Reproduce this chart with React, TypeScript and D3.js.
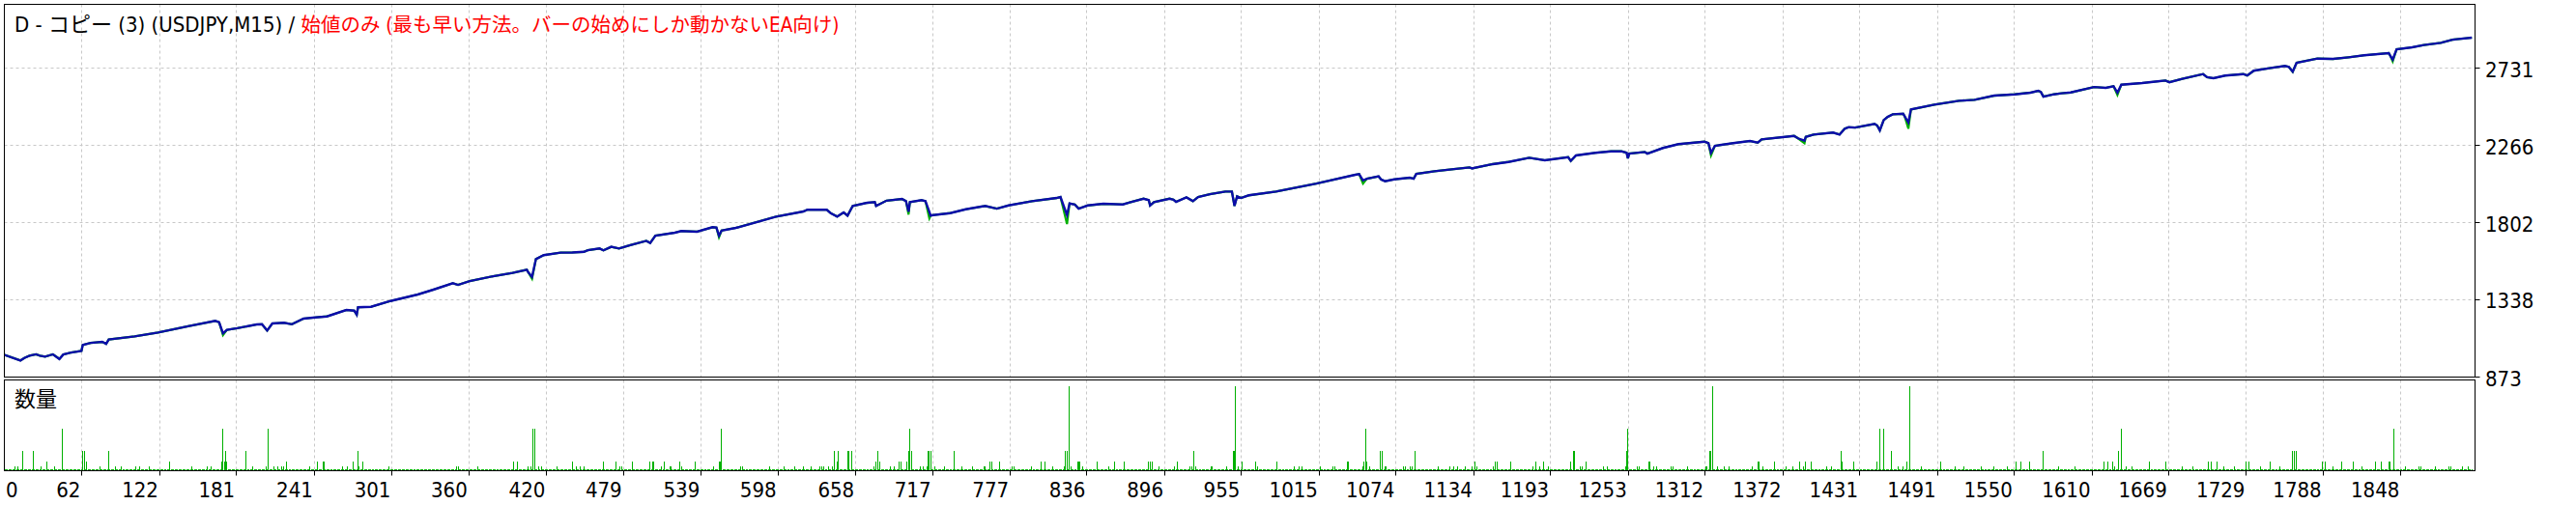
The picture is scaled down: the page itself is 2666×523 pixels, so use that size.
import React from 'react';
import * as d3 from 'd3';

const W = 2666;
const H = 523;

const TITLE_BLACK = 'D - コピー (3) (USDJPY,M15) / ';
const TITLE_RED = '始値のみ (最も早い方法。バーの始めにしか動かないEA向け)';
const SUB_LABEL = '数量';
const TRADE_COUNT = 1904;

const yTicks = [873, 1338, 1802, 2266, 2731];
const xTicks = [0, 62, 122, 181, 241, 301, 360, 420, 479, 539, 598, 658, 717, 777, 836, 896, 955, 1015, 1074, 1134, 1193, 1253, 1312, 1372, 1431, 1491, 1550, 1610, 1669, 1729, 1788, 1848];

const balanceTrade = [
  0, 3, 15, 18, 22, 27, 30, 34, 40, 45, 48, 54, 62, 63, 69, 78, 81, 83, 103, 121, 145, 165, 168, 171, 174, 182, 197, 201, 205, 209, 218, 224, 233, 242, 251, 266, 272, 274, 275, 285, 300, 321, 333, 348, 352, 361, 379, 394, 405, 406, 409, 412, 418, 431, 440, 449, 452, 461, 464, 470, 476,
  484, 497, 500, 504, 519, 524, 536, 548, 551, 553, 555, 566, 597, 618, 621, 636, 639, 644, 649, 652, 656, 667, 673, 674, 682, 694, 697, 699, 700, 709, 712, 715, 716, 718, 731, 743, 758, 767, 776, 794, 813, 816, 821, 823, 827, 830, 837, 849, 864, 870, 880, 884, 885, 888, 900, 903, 905, 913, 918, 922, 931, 943, 948, 950,
  952, 955, 961, 982, 1013, 1043, 1046, 1049, 1052, 1061, 1063, 1066, 1073, 1085, 1088, 1090, 1104, 1119, 1131, 1133, 1149, 1161, 1177, 1189, 1207, 1209, 1213, 1228, 1240, 1248, 1252, 1253, 1254, 1266, 1268, 1280, 1292, 1312, 1315, 1317, 1320, 1334, 1347, 1353, 1356, 1374, 1381, 1384, 1389, 1390, 1396, 1411, 1416, 1420, 1423, 1428,
  1443, 1445, 1447, 1450, 1453, 1457, 1465, 1466, 1469, 1471, 1489, 1508, 1520, 1535, 1551, 1563, 1569, 1571, 1573, 1581, 1587, 1594, 1612, 1621, 1627, 1630, 1633, 1649, 1661, 1667, 1670, 1680, 1696, 1699, 1704, 1713, 1727, 1730, 1735, 1747, 1759, 1762, 1765, 1768, 1784, 1796, 1808, 1820, 1839, 1840, 1842, 1845, 1857, 1866, 1879, 1888, 1903,
];
const balanceValue = [
  1000, 1003, 970, 985, 999, 1007, 999, 993, 1007, 979, 1006, 1018, 1028, 1063, 1076, 1082, 1070, 1096, 1115, 1138, 1177, 1208, 1200, 1134, 1154, 1164, 1187, 1188, 1150, 1193, 1197, 1188, 1222, 1229, 1235, 1274, 1270, 1245, 1290, 1293, 1328, 1367, 1396, 1435, 1425, 1448, 1477, 1497, 1516, 1502, 1473, 1580, 1604, 1619, 1620, 1624, 1634, 1644, 1633, 1654, 1644,
  1663, 1690, 1677, 1721, 1739, 1749, 1745, 1772, 1770, 1721, 1752, 1768, 1836, 1867, 1877, 1877, 1857, 1836, 1861, 1842, 1900, 1919, 1923, 1900, 1932, 1942, 1929, 1865, 1923, 1935, 1929, 1865, 1842, 1845, 1857, 1880, 1900, 1884, 1903, 1929, 1948, 1954, 1845, 1915, 1909, 1884, 1903, 1913, 1909, 1923, 1944, 1935, 1903, 1923, 1944, 1938, 1925, 1952, 1929, 1954, 1971, 1987, 1987, 1900,
  1958, 1948, 1964, 1987, 2035, 2088, 2092, 2054, 2064, 2078, 2059, 2049, 2060, 2070, 2064, 2093, 2109, 2122, 2132, 2126, 2152, 2165, 2190, 2175, 2194, 2171, 2204, 2220, 2229, 2229, 2220, 2187, 2215, 2225, 2215, 2249, 2272, 2287, 2278, 2220, 2262, 2278, 2291, 2281, 2301, 2316, 2322, 2307, 2293, 2316, 2330, 2342, 2330, 2365, 2374, 2372,
  2394, 2384, 2355, 2417, 2436, 2452, 2455, 2442, 2403, 2481, 2510, 2533, 2539, 2564, 2572, 2582, 2593, 2587, 2558, 2572, 2578, 2583, 2616, 2611, 2621, 2582, 2630, 2640, 2650, 2655, 2645, 2665, 2694, 2675, 2669, 2685, 2694, 2685, 2714, 2729, 2743, 2737, 2708, 2762, 2787, 2785, 2795, 2807, 2820, 2806, 2781, 2843, 2855, 2869, 2882, 2901, 2913,
];

const equityDipTrade = [171, 409, 553, 699, 715, 821, 1049, 1317, 1389, 1469, 1630, 1842];
const equityDipValue = [1122, 1462, 1712, 1848, 1825, 1791, 2035, 2204, 2278, 2365, 2568, 2770];

const BASE_LOT = 0.01;
const volumeTrade = [
  11, 13, 17, 25, 31, 35, 41, 47, 63, 64, 66, 76, 83, 88, 93, 104, 107, 114, 130, 147, 159, 162, 170, 171, 172, 173, 174, 189, 194, 204, 206, 210, 213, 216, 218, 220, 238, 244, 248, 249, 263, 267, 271, 275, 276, 279, 299, 351, 352, 367, 395, 398, 406, 408, 410, 411, 414, 416, 428, 440, 443, 446, 449, 464, 474, 477, 478,
  486, 500, 502, 503, 509, 511, 515, 516, 523, 524, 535, 549, 553, 554, 555, 570, 571, 592, 603, 611, 618, 624, 631, 632, 634, 637, 640, 642, 644, 645, 652, 653, 655, 672, 674, 675, 677, 685, 688, 692, 693, 698, 699, 700, 701, 708, 710, 713, 714, 715, 716, 719, 727, 734, 740, 748, 757, 758, 762, 763, 769, 779, 780, 794, 801, 804, 810, 819, 820, 821, 823, 824, 829, 830, 831, 833, 844, 853, 858, 865, 884, 885, 887, 892, 904, 906,
  916, 917, 919, 920, 932, 933, 944, 949, 950, 951, 953, 956, 966, 968, 983, 996, 1000, 1002, 1016, 1026, 1027, 1037, 1038, 1049, 1050, 1051, 1052, 1054, 1062, 1064, 1066, 1067, 1080, 1082, 1085, 1087, 1089, 1107, 1116, 1119, 1122, 1128, 1133, 1135, 1137, 1149, 1151, 1152, 1163, 1180, 1182, 1185, 1188, 1192, 1209, 1211, 1212, 1216, 1218, 1221, 1234, 1237, 1251, 1252, 1253, 1260, 1262, 1269, 1270, 1273, 1275, 1286, 1288, 1299, 1313, 1314, 1316, 1317, 1318, 1322, 1327, 1331,
  1349, 1353, 1354, 1357, 1366, 1375, 1380, 1385, 1388, 1390, 1394, 1406, 1410, 1417, 1418, 1427, 1445, 1447, 1450, 1456, 1461, 1465, 1468, 1470, 1479, 1494, 1505, 1512, 1525, 1535, 1545, 1552, 1556, 1562, 1573, 1585, 1597, 1620, 1623, 1626, 1628, 1631, 1633, 1637, 1641, 1655, 1667, 1680, 1688, 1700, 1702, 1707, 1712, 1720, 1729, 1731, 1740, 1748, 1755, 1765, 1766, 1768, 1788, 1790, 1796, 1803, 1812, 1818, 1829, 1833, 1839, 1840, 1843, 1852, 1862, 1864, 1875, 1885, 1887, 1896, 1900,
];
const volumeLots = [
  0.02, 0.02, 0.08, 0.08, 0.02, 0.04, 0.02, 0.16, 0.08, 0.08, 0.04, 0.02, 0.08, 0.02, 0.02, 0.02, 0.02, 0.02, 0.04, 0.02, 0.02, 0.02, 0.04, 0.16, 0.04, 0.08, 0.04, 0.08, 0.02, 0.02, 0.16, 0.02, 0.02, 0.02, 0.02, 0.04, 0.02, 0.04, 0.04, 0.04, 0.02, 0.02, 0.04, 0.08, 0.02, 0.04, 0.02, 0.02, 0.02, 0.02, 0.04, 0.04, 0.02, 0.02, 0.16, 0.16, 0.02, 0.02, 0.02, 0.04, 0.02, 0.02, 0.02, 0.04, 0.04, 0.02, 0.02,
  0.04, 0.04, 0.04, 0.04, 0.02, 0.04, 0.02, 0.02, 0.04, 0.02, 0.04, 0.02, 0.04, 0.04, 0.16, 0.02, 0.02, 0.02, 0.02, 0.02, 0.02, 0.02, 0.02, 0.02, 0.02, 0.02, 0.02, 0.08, 0.04, 0.08, 0.08, 0.08, 0.08, 0.02, 0.04, 0.08, 0.04, 0.02, 0.02, 0.04, 0.04, 0.04, 0.08, 0.16, 0.08, 0.02, 0.02, 0.02, 0.08, 0.08, 0.08, 0.02, 0.02, 0.08, 0.02, 0.02, 0.02, 0.02, 0.04, 0.04, 0.04, 0.02, 0.02, 0.02, 0.04, 0.04, 0.02, 0.02, 0.08, 0.08, 0.32, 0.02, 0.04, 0.04, 0.04, 0.02, 0.04, 0.02, 0.04, 0.04, 0.04, 0.04, 0.04, 0.02, 0.02, 0.04,
  0.02, 0.02, 0.08, 0.02, 0.02, 0.02, 0.02, 0.08, 0.08, 0.32, 0.02, 0.04, 0.04, 0.02, 0.04, 0.02, 0.02, 0.02, 0.02, 0.02, 0.02, 0.04, 0.04, 0.02, 0.04, 0.16, 0.04, 0.02, 0.08, 0.08, 0.02, 0.02, 0.02, 0.02, 0.02, 0.02, 0.08, 0.02, 0.02, 0.02, 0.02, 0.02, 0.02, 0.04, 0.02, 0.02, 0.04, 0.04, 0.04, 0.02, 0.04, 0.02, 0.04, 0.02, 0.04, 0.08, 0.08, 0.02, 0.02, 0.04, 0.02, 0.02, 0.02, 0.08, 0.16, 0.02, 0.02, 0.04, 0.04, 0.02, 0.02, 0.02, 0.02, 0.02, 0.02, 0.02, 0.08, 0.08, 0.32, 0.02, 0.02, 0.02,
  0.02, 0.04, 0.04, 0.02, 0.04, 0.02, 0.02, 0.04, 0.02, 0.04, 0.04, 0.02, 0.02, 0.08, 0.04, 0.04, 0.04, 0.16, 0.16, 0.08, 0.02, 0.02, 0.04, 0.32, 0.02, 0.04, 0.02, 0.02, 0.02, 0.02, 0.02, 0.04, 0.04, 0.04, 0.08, 0.02, 0.02, 0.04, 0.04, 0.04, 0.02, 0.08, 0.16, 0.02, 0.02, 0.04, 0.04, 0.02, 0.02, 0.04, 0.04, 0.04, 0.02, 0.02, 0.04, 0.04, 0.02, 0.04, 0.02, 0.08, 0.08, 0.08, 0.04, 0.04, 0.02, 0.04, 0.04, 0.02, 0.04, 0.04, 0.04, 0.04, 0.16, 0.02, 0.02, 0.02, 0.02, 0.02, 0.02, 0.02, 0.02,
];

const FONT = "'DejaVu Sans Condensed', 'DejaVu Sans', 'Noto Sans CJK JP', sans-serif";
const GRID = '#c8c8c8';
const BAL_COLOR = '#0c0caa';
const EQ_COLOR = '#00b000';
const VOL_COLOR = '#00b000';

// layout
const PL = 4.5;
const PR = 2561.5;
const MAIN_T = 4.5;
const MAIN_B = 390.5;
const SUB_T = 393.5;
const SUB_B = 487.5;

export default function App() {
  const x = d3.scaleLinear().domain([0, TRADE_COUNT]).range([1, 1 + TRADE_COUNT * 1.3438]);
  const y = d3.scaleLinear().domain([873, 2731]).range([390, 70.33]);
  const yVol = d3.scaleLinear().domain([0.004, 0.345]).range([487.5, 393.5]);

  const balance = balanceTrade.map((t, k) => ({ t, v: balanceValue[k] }));
  const dipMap = new Map(equityDipTrade.map((t, k) => [t, equityDipValue[k]]));
  const equity = balance.map((d) => ({ t: d.t, v: dipMap.has(d.t) ? (dipMap.get(d.t) as number) : d.v }));

  const line = d3
    .line<{ t: number; v: number }>()
    .x((d) => x(d.t))
    .y((d) => y(d.v));

  const lotMap = new Map(volumeTrade.map((t, k) => [t, volumeLots[k]]));
  const lots = d3.range(TRADE_COUNT).map((i) => ({ i, lot: lotMap.has(i) ? (lotMap.get(i) as number) : BASE_LOT }));

  const snap = (v: number) => Math.round(v) + 0.5;

  return (
    <svg
      width={W}
      height={H}
      style={{ position: 'absolute', left: 0, top: 0, background: '#fff' }}
      fontFamily={FONT}
    >
      <defs>
        <clipPath id="mainClip">
          <rect x={PL} y={MAIN_T} width={PR - PL} height={MAIN_B - MAIN_T} />
        </clipPath>
        <clipPath id="subClip">
          <rect x={PL} y={SUB_T} width={PR - PL} height={SUB_B - SUB_T} />
        </clipPath>
      </defs>
      <rect x={0} y={0} width={W} height={H} fill="#fff" />

      {/* grid main */}
      <g stroke={GRID} strokeWidth={1} strokeDasharray="3,3">
        {xTicks.filter((t) => t > 0).map((t) => (
          <line key={'vm' + t} x1={snap(x(t))} x2={snap(x(t))} y1={MAIN_T} y2={MAIN_B} />
        ))}
        {yTicks.filter((t) => t > 873).map((t) => (
          <line key={'hm' + t} x1={PL} x2={PR} y1={snap(y(t))} y2={snap(y(t))} />
        ))}
        {xTicks.filter((t) => t > 0).map((t) => (
          <line key={'vs' + t} x1={snap(x(t))} x2={snap(x(t))} y1={SUB_T} y2={SUB_B} />
        ))}
      </g>

      {/* lines */}
      <g clipPath="url(#mainClip)" fill="none" strokeLinejoin="miter">
        <path d={line(equity) || ''} stroke={EQ_COLOR} strokeWidth={2.2} />
        <path d={line(balance) || ''} stroke={BAL_COLOR} strokeWidth={2.4} />
      </g>

      {/* volume */}
      <g clipPath="url(#subClip)" fill={VOL_COLOR} shapeRendering="crispEdges">
        {lots.map((d) => {
          const top = yVol(d.lot);
          return <rect key={d.i} x={Math.floor(x(d.i))} y={top} width={1} height={487 - top} />;
        })}
      </g>

      {/* borders */}
      <g fill="none" stroke="#000" strokeWidth={1} shapeRendering="crispEdges">
        <rect x={PL} y={MAIN_T} width={PR - PL} height={MAIN_B - MAIN_T} />
        <rect x={PL} y={SUB_T} width={PR - PL} height={SUB_B - SUB_T} />
      </g>

      {/* y axis */}
      <g>
        {yTicks.map((t) => (
          <g key={'yt' + t}>
            <line x1={PR} x2={PR + 5} y1={snap(y(t))} y2={snap(y(t))} stroke="#000" />
            <text x={2572} y={y(t) + 9.5} fontSize={22} fill="#000">
              {t}
            </text>
          </g>
        ))}
      </g>

      {/* x axis */}
      <g>
        {xTicks.map((t) => (
          <g key={'xt' + t}>
            {t > 0 && <line x1={snap(x(t))} x2={snap(x(t))} y1={SUB_B} y2={SUB_B + 5} stroke="#000" />}
            <text
              x={t === 0 ? 6 : x(t) - 1}
              y={515}
              fontSize={22}
              textAnchor={t === 0 ? 'start' : 'end'}
              fill="#000"
            >
              {t}
            </text>
          </g>
        ))}
      </g>

      {/* titles */}
      <text x={15} y={33} fontSize={22} style={{ whiteSpace: 'pre' }}>
        <tspan fill="#000">{TITLE_BLACK}</tspan>
        <tspan fill="#ff0000" fontSize={20.5}>{TITLE_RED}</tspan>
      </text>
      <text x={15} y={421} fontSize={22} fill="#000">
        {SUB_LABEL}
      </text>
    </svg>
  );
}
